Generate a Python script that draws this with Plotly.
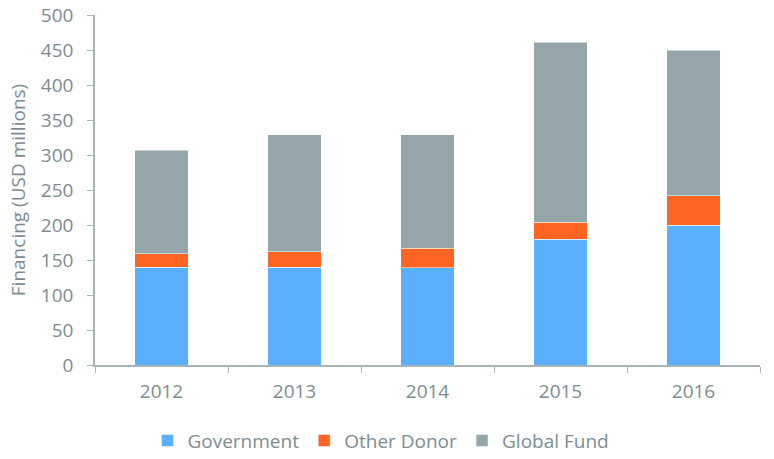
import plotly.graph_objects as go

years = ["2012", "2013", "2014", "2015", "2016"]
government = [140, 140, 139, 180, 200]
other_donor = [19, 22, 28, 24, 42]
global_fund = [148, 167, 162, 257, 208]

axis_col = "#a9b4b9"
text_col = "#7d8c92"

fig = go.Figure()
fig.add_bar(x=years, y=government, name="Government", marker_color="#5aafff")
fig.add_bar(x=years, y=other_donor, name="Other Donor", marker_color="#ff6422")
fig.add_bar(x=years, y=global_fund, name="Global Fund", marker_color="#95a6ab")

fig.update_layout(
    barmode="stack",
    bargap=0.6,
    width=774,
    height=459,
    template="plotly_white",
    plot_bgcolor="white",
    font=dict(family="Open Sans", size=19, color=text_col),
    margin=dict(l=95, r=14, t=15, b=94),
    legend=dict(
        orientation="h",
        x=0.43, xanchor="center",
        yref="container", y=0.04, yanchor="middle",
        font=dict(size=19, color=text_col),
        traceorder="normal",
        itemwidth=30,
    ),
    xaxis=dict(
        showline=True, linecolor=axis_col, linewidth=1.5,
        ticks="outside", tickson="boundaries", ticklen=6, tickcolor=axis_col,
        showgrid=False, automargin=False, ticklabelstandoff=8,
    ),
    yaxis=dict(
        range=[0, 500], dtick=50,
        showline=True, linecolor=axis_col, linewidth=1.5,
        ticks="outside", ticklen=6, tickcolor=axis_col,
        showgrid=False, zeroline=False, automargin=False,
        ticklabelstandoff=10, ticklabeloverflow="allow",
        title=dict(text="Financing (USD millions)", standoff=10,
                   font=dict(size=19, color=text_col)),
    ),
)

# drop the default 8px body margin so the figure fills the window
fig.write_html(
    "out.html",
    config={"displayModeBar": False},
    post_script="document.body.style.margin = '0';",
)
